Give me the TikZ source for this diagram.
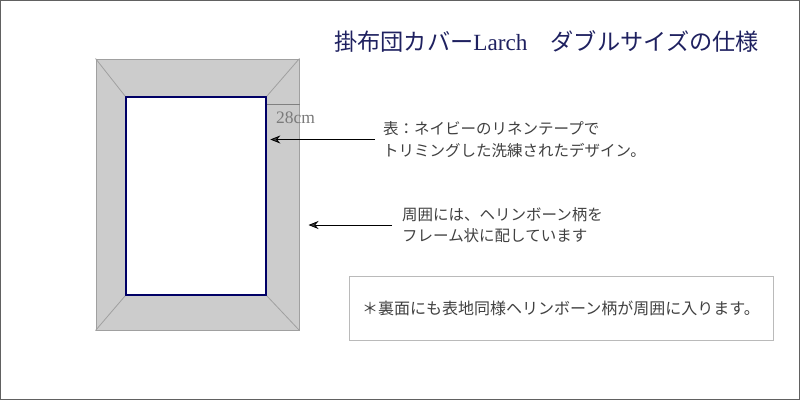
\documentclass[tikz,border=0pt]{standalone}
\usepackage{fontspec}
\setmainfont{Liberation Serif}
\newfontfamily\jp{Noto Sans CJK JP}
\usetikzlibrary{arrows.meta}
\definecolor{navyline}{HTML}{000066}
\definecolor{titlecol}{HTML}{1F2160}
\definecolor{framefill}{HTML}{CCCCCC}
\definecolor{frameedge}{HTML}{A0A0A0}
\definecolor{notecol}{HTML}{404040}
\begin{document}
\begin{tikzpicture}[x=1pt,y=-1pt]
    \tikzstyle{frame}=[draw=frameedge, fill=framefill, line width=1pt, minimum width=203pt, minimum height=271pt, inner sep=0pt]
    \tikzstyle{panel}=[draw=navyline, fill=white, line width=1.6pt, minimum width=140pt, minimum height=198pt, inner sep=0pt]
    \tikzstyle{note}=[anchor=west, align=left, text=notecol, inner ysep=0pt, font=\jp\fontsize{15.5}{21.5}\selectfont]
    \tikzstyle{pointer}=[draw=black, line width=0.8pt, -{Stealth[length=10pt,width=8pt,fill=notecol]}]
    \useasboundingbox (0,0) rectangle (800,400);
    \draw[draw=black!62, line width=1.3pt] (0.65,0.65) rectangle (799.35,399.35);
    \node[anchor=west, inner sep=0pt, text=titlecol, font=\jp\fontsize{23.2}{26}\selectfont] (title) at (334,42) {掛布団カバー{\rmfamily Larch}　ダブルサイズの仕様};
    \node[frame] (frame) at (197.5,194.5) {};
    \node[panel] (panel) at (196,196) {};
    \foreach \c in {north west, north east, south west, south east}
        \draw[frameedge, line width=0.8pt] (frame.\c) -- (panel.\c);
    \draw[frameedge!80!black, line width=0.8pt] ([yshift=-8pt]panel.north east) coordinate (w1) -- (frame.east |- w1);
    \node[text=black!52, font=\fontsize{17.5}{20}\selectfont, inner sep=0pt] (w28) at (295.5,118) {28cm};
    \node[note, inner xsep=8pt] (face) at (375,139.5) {表：ネイビーのリネンテープで\\トリミングした洗練されたデザイン。};
    \node[note, inner xsep=10pt] (edge) at (392,225) {周囲には、ヘリンボーン柄を\\フレーム状に配しています};
    \draw[pointer, shorten >=3.5pt] (face.west) -- (panel.east |- face.west);
    \draw[pointer, shorten >=9pt] (edge.west) -- (frame.east |- edge.west);
    \node[draw=black!27, line width=1pt, minimum width=424pt, minimum height=64pt, text=notecol, font=\jp\fontsize{16}{18}\selectfont] (back) at (561,308) {＊裏面にも表地同様ヘリンボーン柄が周囲に入ります。};
\end{tikzpicture}
\end{document}
